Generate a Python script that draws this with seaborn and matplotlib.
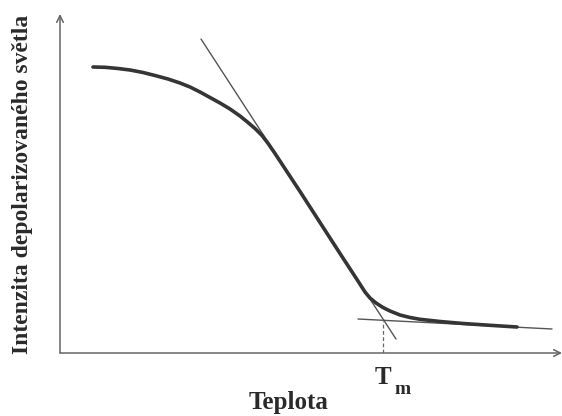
import matplotlib
matplotlib.use("Agg")
import matplotlib.pyplot as plt
import seaborn as sns
import pandas as pd

# Curve (temperature vs. depolarized light intensity), arbitrary units
teplota = [33, 45, 58, 70, 83, 95, 108, 120, 130, 140, 150, 160, 170, 180, 188,
           195, 202, 208, 215, 225, 240, 260, 280, 297, 305, 310, 316, 323, 330,
           340, 350, 360, 380, 403, 430, 457]
intenzita = [286, 285.7, 284.5, 283, 280.5, 277.5, 274, 270, 266, 261, 255.5, 250,
             244, 237, 230.5, 224.5, 217.5, 209.7, 199.5, 184.3, 161.5, 130.5, 99.5,
             73.5, 61, 55, 50, 45.5, 42, 38, 35.5, 33.7, 31.5, 29.5, 27.7, 26]

# Tangent lines (end points) and melting temperature
tangenta1_x = [141, 336]
tangenta1_y = [314, 14]
tangenta2_x = [298, 492]
tangenta2_y = [34, 24]
tm_x = 323
tm_y = 32.5

sns.set_style("white")
plt.rcParams["font.family"] = ["Liberation Serif", "DejaVu Serif"]

fig = plt.figure(figsize=(5.62, 4.16), dpi=100)
ax = fig.add_axes([60 / 562, 63 / 416, 502 / 562, 339 / 416])
ax.set_xlim(0, 502)
ax.set_ylim(0, 339)

df = pd.DataFrame({"Teplota": teplota, "Intenzita": intenzita})
ax.plot(tangenta1_x, tangenta1_y, color="#555555", linewidth=1.0)
ax.plot(tangenta2_x, tangenta2_y, color="#555555", linewidth=1.0)
sns.lineplot(data=df, x="Teplota", y="Intenzita", ax=ax, color="#353535",
             linewidth=2.6, sort=False)
ax.plot([tm_x, tm_x], [0, tm_y], color="#666666", linewidth=0.9, linestyle=(0, (3, 2)))

for s in ax.spines.values():
    s.set_visible(False)
ax.set_xticks([])
ax.set_yticks([])
ax.set_xlabel("")
ax.set_ylabel("")

arrow = dict(arrowstyle="->", color="#666666", lw=1.1, shrinkA=0, shrinkB=0,
             mutation_scale=12)
ax.annotate("", xy=(1.0, 0), xytext=(0, 0), xycoords="axes fraction",
            textcoords="axes fraction", arrowprops=arrow)
ax.annotate("", xy=(0, 1.0), xytext=(0, 0), xycoords="axes fraction",
            textcoords="axes fraction", arrowprops=arrow)

tc = "#2a2a2a"
fig.text(23 / 562, 1 - 184 / 416, "Intenzita depolarizovaného světla", rotation=90,
         ha="center", va="center", fontsize=17, fontweight="bold", color=tc)
fig.text(289 / 562, 1 - 402 / 416, "Teplota", ha="center", va="center",
         fontsize=18, fontweight="bold", color=tc)
fig.text(383 / 562, 1 - 378 / 416, "T", ha="center", va="center",
         fontsize=18, fontweight="bold", color=tc)
fig.text(403 / 562, 1 - 390 / 416, "m", ha="center", va="center",
         fontsize=14, fontweight="bold", color=tc)

fig.savefig("out.png", dpi=100, facecolor="white")
